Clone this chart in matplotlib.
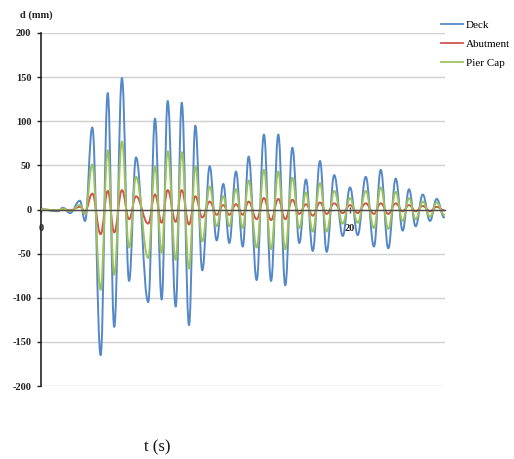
import matplotlib
matplotlib.use("Agg")
import matplotlib.pyplot as plt
from matplotlib.path import Path
from matplotlib.patches import PathPatch
from matplotlib.lines import Line2D

# ---- data (extrema of each response) ----
time_s = [0.00, 1.10, 1.42, 1.88, 2.52, 2.85, 3.32, 3.86, 4.32, 4.74,
          5.24, 5.70, 6.15, 6.94, 7.38, 7.81, 8.20, 8.72, 9.11, 9.58,
          9.99, 10.44, 10.92, 11.37, 11.80, 12.19, 12.62, 13.06, 13.44, 13.96,
          14.43, 14.89, 15.36, 15.81, 16.27, 16.72, 17.15, 17.59, 18.06, 18.49,
          18.98, 19.53, 20.00, 20.50, 21.02, 21.55, 21.99, 22.48, 22.96, 23.41,
          23.82, 24.25, 24.71, 25.18, 25.61, 26.10]

deck = [0, -2, 2, -4, 10, -13, 93, -165, 132, -133,
        149, -81, 59, -105, 103, -102, 123, -110, 121, -131,
        95, -69, 49, -35, 29, -38, 43, -42, 60, -80,
        85, -81, 85, -86, 70, -38, 34, -47, 55, -48,
        39, -30, 25, -29, 37, -42, 45, -44, 35, -24,
        23, -19, 17, -13, 12, -9]

abutment = [0, -1, 0.5, -1, 3, -2, 18, -28, 21, -26,
            22, -11, 15, -16, 17, -15, 22, -14, 22, -17,
            15, -9, 9, -6, 5, -6, 6, -6, 9, -11,
            13, -12, 12, -11, 11, -5, 6, -7, 8, -5,
            7, -4, 5, -4, 7, -5, 7, -5, 7, -2,
            5, -2, 4, -2, 3, -1]

pier_cap = [0, -1, 1, -2, 5, -5, 51, -91, 67, -74,
            77, -43, 37, -55, 49, -49, 66, -57, 65, -67,
            49, -36, 26, -19, 15, -19, 23, -21, 33, -43,
            45, -45, 43, -45, 36, -21, 19, -25, 30, -25,
            21, -16, 13, -15, 21, -21, 25, -22, 20, -13,
            13, -11, 9, -8, 8, -6]

series_names = ["Deck", "Abutment", "Pier Cap"]
y_ticks = [-200, -150, -100, -50, 0, 50, 100, 150, 200]
x_ticks = [0, 20]

colors = ["#5588C8", "#D2544F", "#9DC25C"]

plt.rcParams['font.family'] = ['Liberation Serif', 'DejaVu Serif']
plt.rcParams['axes.unicode_minus'] = False

W, H = 514, 459
fig = plt.figure(figsize=(W / 100, H / 100), dpi=100)
ax = fig.add_axes([41 / W, 1 - 386 / H, (445 - 41) / W, (386 - 33) / H])


def smooth_path(t, v, k=0.4):
    verts = [(t[0], v[0])]
    codes = [Path.MOVETO]
    for i in range(1, len(t)):
        dt = t[i] - t[i - 1]
        verts += [(t[i - 1] + k * dt, v[i - 1]), (t[i] - k * dt, v[i]), (t[i], v[i])]
        codes += [Path.CURVE4] * 3
    return Path(verts, codes)


ax.set_xlim(0, 26.15)
ax.set_ylim(-200, 200)
ax.set_yticks(y_ticks)
ax.set_xticks(x_ticks)
ax.grid(axis='y', color='#d0d0d0', lw=1.0)
ax.set_axisbelow(True)

for vals, c in zip([deck, abutment, pier_cap], colors):
    ax.add_patch(PathPatch(smooth_path(time_s, vals), fill=False, edgecolor=c,
                           lw=1.4, joinstyle='round', capstyle='round', zorder=3))

for s in ['top', 'right']:
    ax.spines[s].set_visible(False)
ax.spines['left'].set_color('#222222')
ax.spines['left'].set_linewidth(1.2)
ax.spines['bottom'].set_position(('data', 0))
ax.spines['bottom'].set_color('#4a4a4a')
ax.spines['bottom'].set_linewidth(1.0)
ax.spines['bottom'].set_zorder(4)

ax.tick_params(axis='y', direction='out', length=3, width=1, color='#222222',
               labelsize=7.5, pad=4)
ax.tick_params(axis='x', direction='inout', length=5, width=1, color='#4a4a4a',
               labelsize=7.5, pad=8)
for lab in ax.get_yticklabels() + ax.get_xticklabels():
    lab.set_fontweight('bold')
    lab.set_color('#222222')

handles = [Line2D([], [], color=c, lw=1.3) for c in colors]
ax.legend(handles, series_names, loc='upper left',
          bbox_to_anchor=(441 / W, 1 - 20.5 / H), bbox_transform=fig.transFigure,
          frameon=False, fontsize=8, handlelength=2.0, handletextpad=0.25,
          labelspacing=0.8, borderpad=0, borderaxespad=0)

fig.text(20 / W, 1 - 15 / H, "d (mm)", fontsize=7.5, fontweight='bold',
         va='center', ha='left', color='#222222')
fig.text(157 / W, 1 - 447 / H, "t (s)", fontsize=12, va='center', ha='center',
         color='#111111')

fig.savefig("out.png", dpi=100)
